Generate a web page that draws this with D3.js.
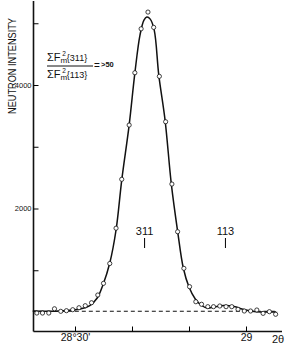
<!DOCTYPE html>
<html>
<head>
<meta charset="utf-8">
<script src="https://cdn.jsdelivr.net/npm/d3@7"></script>
<style>
  body { margin: 0; background: #fff; }
  text { font-family: "Liberation Sans", "DejaVu Sans", sans-serif; fill: #111; }
</style>
</head>
<body>
<script>
// measured points: minutes past 28 deg, counts
var pointMin = [23.3, 24.3, 25.4, 26.4, 27.5, 28.5, 29.6, 30.7, 31.8, 32.9, 34.0, 35.0, 36.1, 37.2, 38.2,
  39.5, 40.5, 41.6, 42.8, 43.8, 44.8, 45.9, 47.0, 48.0, 49.1, 50.1, 51.2, 52.2, 53.3, 54.3, 55.4, 56.5,
  57.5, 58.6, 59.7, 60.8, 61.9, 63.0, 64.1, 65.2];
var pointCounts = [307, 307, 307, 376, 335, 345, 361, 393, 426, 474, 599, 788, 1109, 1681, 2473,
  3351, 4198, 4910, 5181, 4933, 4140, 3405, 2396, 1624, 1031, 734, 490, 449, 410, 410, 421, 410,
  410, 368, 340, 340, 356, 302, 329, 287];

// fitted curve as drawn
var curveMin = [22.6, 27.4, 30.9, 32.6, 33.9, 34.9, 36.1, 37.2, 38.2, 39.5, 40.5, 41.4, 42.1, 42.6, 43.2,
  43.9, 44.7, 45.8, 46.9, 48.0, 49.0, 50.0, 51.1, 52.1, 53.2, 54.4, 56.1, 57.9, 59.6, 61.4, 65.3];
var curveCounts = [340, 340, 372, 429, 550, 761, 1117, 1652, 2461, 3351, 4193, 4808, 5051, 5100, 5067,
  4889, 4160, 3432, 2396, 1635, 1036, 729, 534, 437, 389, 405, 429, 413, 364, 332, 324];

var background = 335;
var xTicks = [30, 40, 50, 60];
var xTickLabels = {30: "28°30'", 60: "29"};
var yTicks = [1000, 2000, 3000, 4000, 5000];
var yTickLabels = {2000: "2000", 4000: "4000"};
var peaks = [{hkl: "311", m: 42.2}, {hkl: "113", m: 56.4}];

var w = 289, h = 345;
var svg = d3.select("body").append("svg").attr("width", w).attr("height", h);

var x = d3.scaleLinear().domain([30, 60]).range([75, 246]);
var y = d3.scaleLinear().domain([0, 4000]).range([332, 85]);
var x0 = 33.5, yBase = 331.5;

// axes lines
svg.append("line").attr("x1", x0).attr("x2", x0).attr("y1", 1).attr("y2", yBase)
  .attr("stroke", "#111").attr("stroke-width", 1.6);
svg.append("line").attr("x1", x0).attr("x2", 282).attr("y1", yBase).attr("y2", yBase)
  .attr("stroke", "#111").attr("stroke-width", 1.6);

var yAxis = d3.axisLeft(y).tickValues(yTicks).tickSize(-5).tickPadding(2)
  .tickFormat(function(d) { return yTickLabels[d] || ""; });
var gy = svg.append("g").attr("transform", "translate(" + x0 + ",0)").call(yAxis);
gy.select(".domain").remove();
gy.selectAll("text").style("font-size", "7.5px").style("fill", "#111");

var xAxis = d3.axisBottom(x).tickValues(xTicks).tickSize(-5).tickPadding(2)
  .tickFormat(function(d) { return xTickLabels[d] || ""; });
var gx = svg.append("g").attr("transform", "translate(0," + yBase + ")").call(xAxis);
gx.select(".domain").remove();
gx.selectAll("text").style("font-size", "10.5px").style("fill", "#111");

svg.append("text").attr("x", 278).attr("y", 343).attr("text-anchor", "middle")
  .style("font-size", "11px").text("2θ");

// background
svg.append("line")
  .attr("x1", x(22.6)).attr("x2", x(65.6))
  .attr("y1", y(background)).attr("y2", y(background))
  .attr("stroke", "#111").attr("stroke-width", 1.1).attr("stroke-dasharray", "4,3");

// curve
var line = d3.line()
  .x(function(d) { return x(d[0]); })
  .y(function(d) { return y(d[1]); })
  .curve(d3.curveCatmullRom);
svg.append("path").datum(d3.zip(curveMin, curveCounts))
  .attr("d", line).attr("fill", "none").attr("stroke", "#111").attr("stroke-width", 1.5);

// points
svg.selectAll("circle.pt").data(d3.zip(pointMin, pointCounts)).enter().append("circle")
  .attr("class", "pt")
  .attr("cx", function(d) { return x(d[0]); })
  .attr("cy", function(d) { return y(d[1]); })
  .attr("r", 2.1).attr("fill", "#fff").attr("stroke", "#111").attr("stroke-width", 0.8);

// peak labels
peaks.forEach(function(p) {
  svg.append("text").attr("x", x(p.m)).attr("y", 235).attr("text-anchor", "middle")
    .style("font-size", "11px").text(p.hkl);
  svg.append("line").attr("x1", x(p.m)).attr("x2", x(p.m)).attr("y1", 238).attr("y2", 248)
    .attr("stroke", "#111").attr("stroke-width", 1.1);
});

// y label
svg.append("text").attr("transform", "translate(16,66) rotate(-90)")
  .attr("text-anchor", "middle").style("font-size", "10.5px")
  .attr("textLength", 96).attr("lengthAdjust", "spacingAndGlyphs")
  .text("NEUTRON INTENSITY");

// ratio formula
function fterm(ty, hkl) {
  var t = svg.append("text").attr("x", 47).attr("y", ty).style("font-size", "11px");
  t.append("tspan").text("ΣF");
  t.append("tspan").attr("dy", 2).style("font-size", "8px").text("m");
  t.append("tspan").attr("dx", -5).attr("dy", -7).style("font-size", "6.5px").text("2");
  t.append("tspan").attr("dx", 1).attr("dy", 5).style("font-size", "9px").text("{" + hkl + "}");
}
fterm(61, "311");
fterm(78, "113");
svg.append("line").attr("x1", 47).attr("x2", 93).attr("y1", 66).attr("y2", 66)
  .attr("stroke", "#111").attr("stroke-width", 1);
svg.append("text").attr("x", 94).attr("y", 69).style("font-size", "10px").text("=");
svg.append("text").attr("x", 101).attr("y", 67).style("font-size", "7.5px")
  .style("font-weight", "bold").text(">50");
</script>
</body>
</html>
